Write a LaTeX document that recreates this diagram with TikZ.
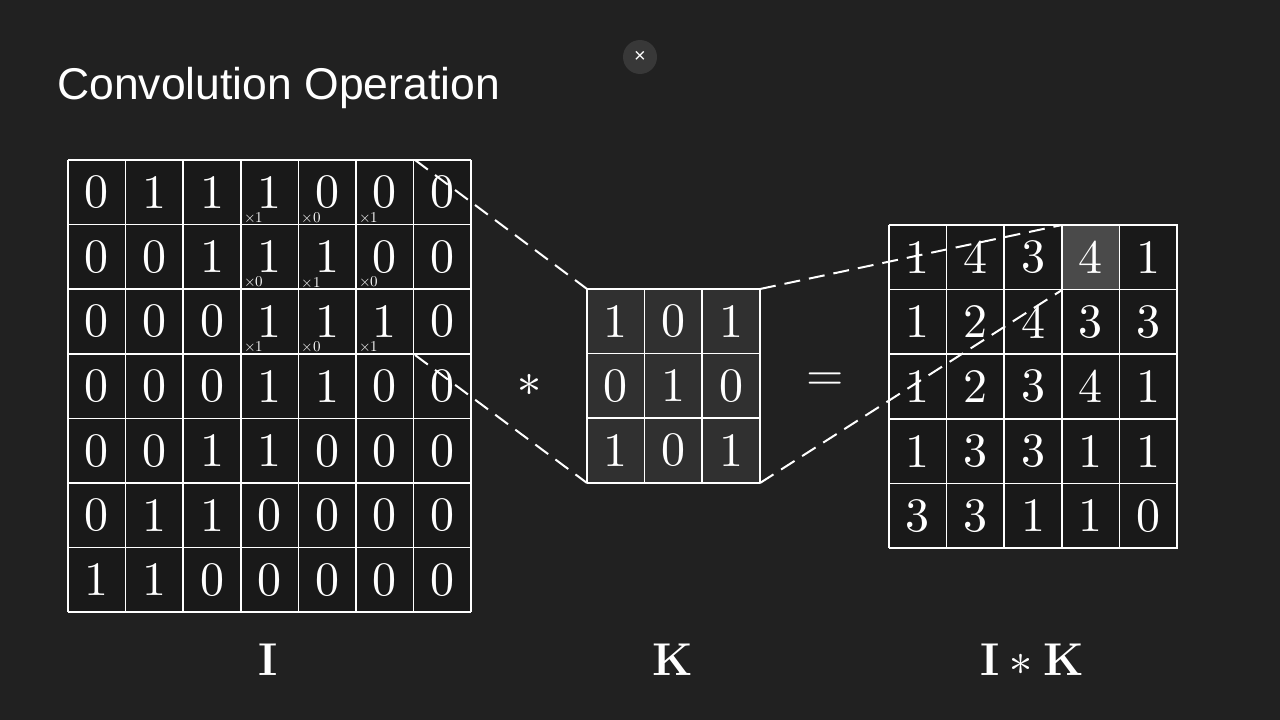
\documentclass[tikz,border=0pt]{standalone}
\usepackage{fontspec}
\usepackage{unicode-math}
\setmathfont{Latin Modern Math}
\newfontfamily\sansf{Liberation Sans}
\definecolor{bg}{HTML}{212121}
\definecolor{cellk}{HTML}{303030}
\definecolor{hl}{HTML}{4A4A4A}
\definecolor{btn}{HTML}{383838}
\begin{document}
\begin{tikzpicture}[x=1pt,y=-1pt,
  dig/.style={text=white,font=\fontsize{48}{48}\selectfont,inner sep=0},
  mul/.style={text=white!80,font=\fontsize{15}{15}\selectfont,inner sep=0,anchor=south west},
  gl/.style={draw=white,line width=1.6pt},
  dl/.style={draw=white!75,dash pattern=on 16pt off 9pt,line width=2pt},
  lab/.style={text=white,font=\fontsize{46}{46}\selectfont,inner sep=0}]
\fill[bg] (0,0) rectangle (1280,720);
\useasboundingbox (0,0) rectangle (1280,720);
\node[anchor=west,text=white,font=\sansf\fontsize{44.5}{44.5}\selectfont,inner sep=0] (title) at (57,88) {Convolution Operation};
\fill[btn] (640,57) circle (17);
\node[text=white,font=\sansf\fontsize{20}{20}\selectfont,inner sep=0] (close) at (640,57) {×};
\def\cw{57.6}\def\ch{64.6}
\fill[black!90!white] (68,160) rectangle (471,612);
\foreach \row [count=\r from 0] in {{0,1,1,1,0,0,0},{0,0,1,1,1,0,0},{0,0,0,1,1,1,0},{0,0,0,1,1,0,0},{0,0,1,1,0,0,0},{0,1,1,0,0,0,0},{1,1,0,0,0,0,0}}{
  \foreach \v [count=\c from 0] in \row {
    \node[dig] (i\r\c) at ({68+\cw*(\c+0.5)},{160+\ch*(\r+0.5)}) {$\v$};
  }}
\foreach \k in {0,...,7}{\draw[gl] ({68+\cw*\k},160) -- ({68+\cw*\k},612); \draw[gl] (68,{160+\ch*\k}) -- (471,{160+\ch*\k});}
\foreach \m [count=\n from 0] in {1,0,1,0,1,0,1,0,1}{
  \pgfmathtruncatemacro\rr{int(\n/3)}\pgfmathtruncatemacro\cc{mod(\n,3)+3}
  \node[mul] (m\n) at ({68+\cw*\cc+3},{160+\ch*(\rr+1)-2}) {$\times\m$};}
\fill[cellk] (587,289) rectangle (760,483);
\foreach \row [count=\r from 0] in {{1,0,1},{0,1,0},{1,0,1}}{
  \foreach \v [count=\c from 0] in \row {
    \node[dig] (k\r\c) at ({587+\cw*(\c+0.5)},{289+\ch*(\r+0.5)}) {$\v$};}}
\foreach \k in {0,...,3}{\draw[gl] ({587+\cw*\k},289) -- ({587+\cw*\k},483); \draw[gl] (587,{289+\ch*\k}) -- (760,{289+\ch*\k});}
\fill[black!90!white] (889,225) rectangle (1178,548);
\fill[hl] (1062,225) rectangle (1120,290);
\foreach \row [count=\r from 0] in {{1,4,3,4,1},{1,2,4,3,3},{1,2,3,4,1},{1,3,3,1,1},{3,3,1,1,0}}{
  \foreach \v [count=\c from 0] in \row {
    \node[dig] (o\r\c) at ({889+\cw*(\c+0.5)},{225+\ch*(\r+0.5)}) {$\v$};}}
\foreach \k in {0,...,5}{\draw[gl] ({889+\cw*\k},225) -- ({889+\cw*\k},548); \draw[gl] (889,{225+\ch*\k}) -- (1178,{225+\ch*\k});}
\coordinate (a1) at (415,160); \coordinate (a2) at (415,355);
\coordinate (b1) at (587,289); \coordinate (b2) at (587,483);
\coordinate (c1) at (760,289); \coordinate (c2) at (760,483);
\coordinate (d1) at (1062,225); \coordinate (d2) at (1062,290);
\draw[dl] (a1) -- (b1); \draw[dl] (a2) -- (b2);
\draw[dl] (c1) -- (d1); \draw[dl] (c2) -- (d2);
\node[dig] (star) at (529,385) {$*$};
\node[dig] (eq) at (825,382) {$=$};
\node[lab] (lI) at (268,660) {$\mathbf{I}$};
\node[lab] (lK) at (673,660) {$\mathbf{K}$};
\node[lab] (lIK) at (1032,660) {$\mathbf{I}*\mathbf{K}$};
\end{tikzpicture}
\end{document}
